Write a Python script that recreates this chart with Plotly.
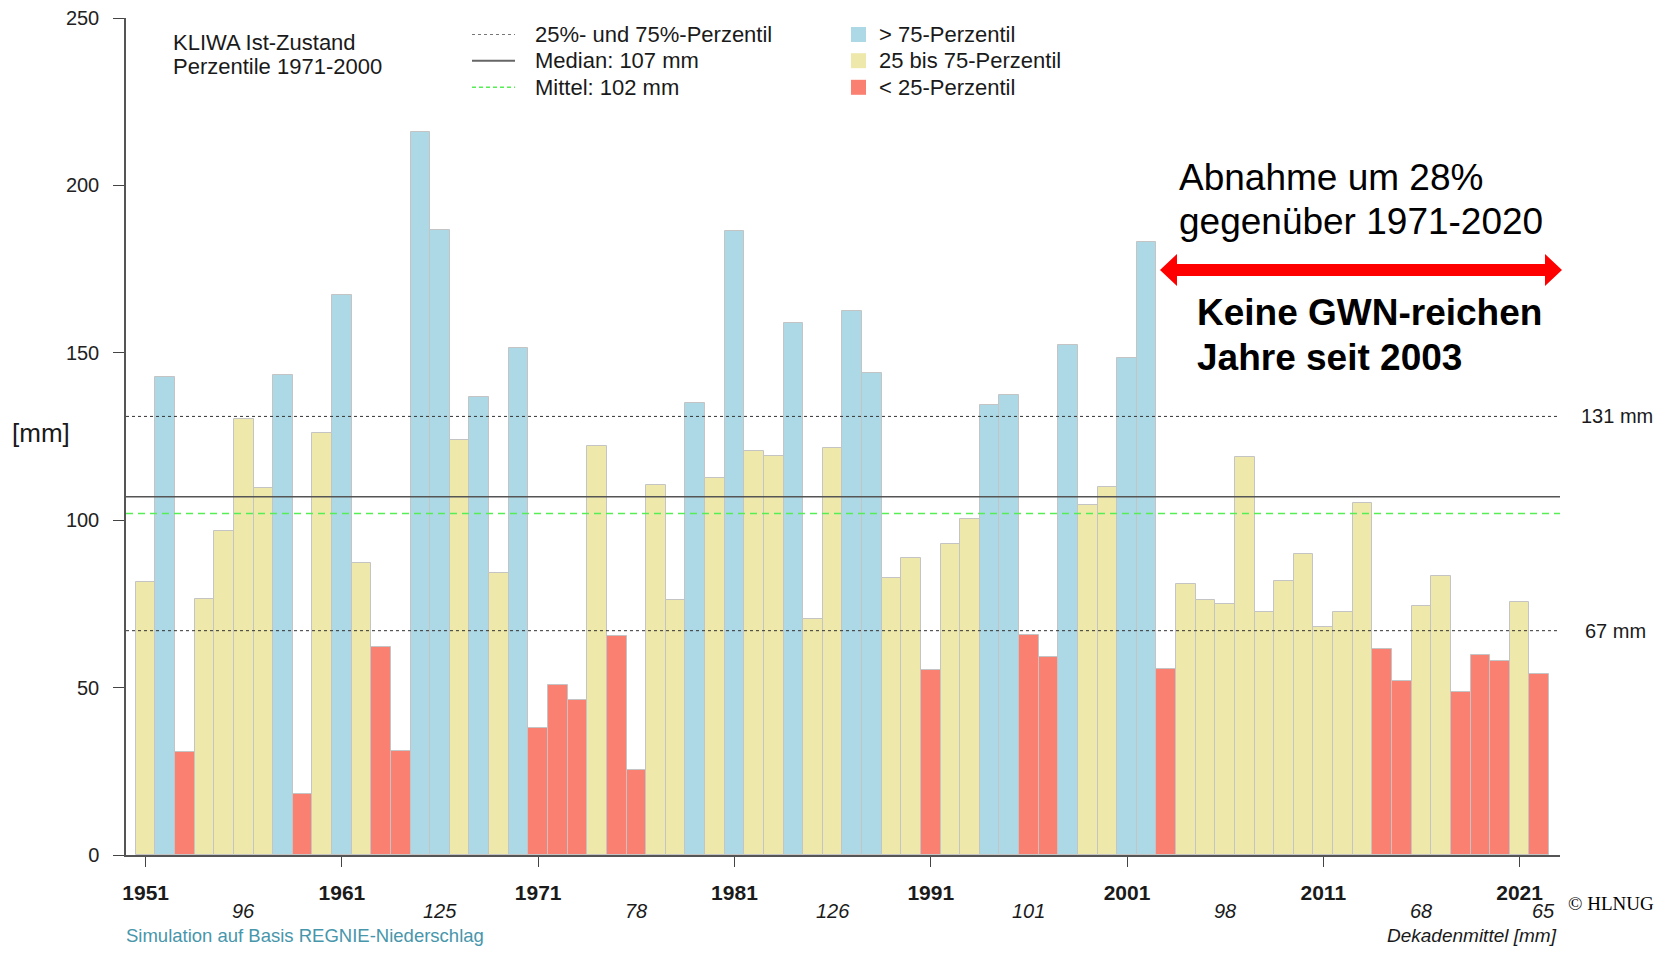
import plotly.graph_objects as go

# ---------------- data ----------------
years = list(range(1951, 2023))
gwn = [81.5, 142.7, 30.7, 76.6, 96.7, 130.2, 109.6, 143.3, 18.1, 126.1,
       167.3, 87.1, 62.1, 31.0, 216.0, 186.8, 124.1, 136.7, 84.3, 151.4,
       37.9, 50.7, 46.2, 122.1, 65.3, 25.5, 110.5, 76.3, 135.0, 112.7,
       186.5, 120.7, 119.3, 158.8, 70.4, 121.6, 162.5, 143.9, 82.8, 88.6,
       55.3, 93.0, 100.3, 134.4, 137.5, 65.6, 59.0, 152.4, 104.4, 109.9,
       148.3, 183.0, 55.6, 80.9, 76.1, 75.1, 119.0, 72.7, 81.8, 89.8,
       68.1, 72.7, 105.0, 61.5, 52.0, 74.5, 83.4, 48.7, 59.7, 57.8,
       75.6, 54.0]
p25 = 67
p75 = 131
median = 107
mean = 102
decade_means = ["96", "125", "78", "126", "101", "98", "68", "65"]
decade_label_years = [1956, 1966, 1976, 1986, 1996, 2006, 2016, 2022.2]
tick_years = [1951, 1961, 1971, 1981, 1991, 2001, 2011, 2021]

C_HIGH = "#ADD8E6"
C_MID = "#EEE8AA"
C_LOW = "#FA8072"
colors = [C_HIGH if v > p75 else (C_LOW if v < p25 else C_MID) for v in gwn]

# ---------------- layout geometry ----------------
# page pixel coordinates; the figure sits at (8, 8) because of the page's body margin
O = 8
W, H = 1668 - 2 * O, 955 - 2 * O
PL, PR, PT, PB = 126, 1560, 18, 855          # plot area in page pixels
ML, MT = PL - O, PT - O
MR, MB = W - (PR - O), H - (PB - O)
PW, PH = PR - PL, PB - PT


def px(x):
    return (x - PL) / PW


def py(y):
    return 1 - (y - PT) / PH


FONT = "Liberation Sans, Arial, sans-serif"

fig = go.Figure()
fig.add_trace(go.Bar(
    x=years, y=gwn, width=1,
    marker=dict(color=colors, line=dict(color="#c4c4c4", width=1)),
    showlegend=False, hoverinfo="x+y",
))

shapes = []
# reference lines
shapes.append(dict(type="line", xref="paper", yref="y", x0=0, x1=1, y0=p75, y1=p75,
                   line=dict(color="#333333", width=1, dash="dot"), layer="above"))
shapes.append(dict(type="line", xref="paper", yref="y", x0=0, x1=1, y0=p25, y1=p25,
                   line=dict(color="#333333", width=1, dash="dot"), layer="above"))
shapes.append(dict(type="line", xref="paper", yref="y", x0=0, x1=1, y0=median, y1=median,
                   line=dict(color="#555555", width=1.5), layer="above"))
shapes.append(dict(type="line", xref="paper", yref="y", x0=0, x1=1, y0=mean, y1=mean,
                   line=dict(color="#55ee55", width=1.5, dash="7px,5px"), layer="above"))

# legend line samples
ry = [34.5, 60.7, 87.3]
shapes.append(dict(type="line", xref="paper", yref="paper", x0=px(472), x1=px(515),
                   y0=py(ry[0]), y1=py(ry[0]), line=dict(color="#777777", width=1, dash="dot")))
shapes.append(dict(type="line", xref="paper", yref="paper", x0=px(472), x1=px(515),
                   y0=py(ry[1]), y1=py(ry[1]), line=dict(color="#666666", width=2)))
shapes.append(dict(type="line", xref="paper", yref="paper", x0=px(472), x1=px(515),
                   y0=py(ry[2]), y1=py(ry[2]), line=dict(color="#55ee55", width=1.5, dash="4px,3px")))
# legend colour squares
for yy, c in zip(ry, [C_HIGH, C_MID, C_LOW]):
    shapes.append(dict(type="rect", xref="paper", yref="paper", x0=px(851), x1=px(866),
                       y0=py(yy - 7.5), y1=py(yy + 7.5), fillcolor=c, line=dict(width=0)))

# double-headed red arrow
ax0, ax1, ayc = 1160, 1562, 270
hl, hh, sh = 17, 16, 6
pts = [(ax0, ayc), (ax0 + hl, ayc - hh), (ax0 + hl, ayc - sh), (ax1 - hl, ayc - sh),
       (ax1 - hl, ayc - hh), (ax1, ayc), (ax1 - hl, ayc + hh), (ax1 - hl, ayc + sh),
       (ax0 + hl, ayc + sh), (ax0 + hl, ayc + hh)]
path = "M " + " L ".join(f"{px(a):.5f},{py(b):.5f}" for a, b in pts) + " Z"
shapes.append(dict(type="path", xref="paper", yref="paper", path=path,
                   fillcolor="#ff0000", line=dict(width=0)))

ann = []


def txt(text, x, y, size, xanchor="left", color="#1a1a1a", family=FONT, yanchor="middle"):
    ann.append(dict(text=text, x=px(x), y=py(y), xref="paper", yref="paper",
                    xanchor=xanchor, yanchor=yanchor, showarrow=False, borderpad=0,
                    font=dict(size=size, color=color, family=family)))


txt("KLIWA Ist-Zustand", 172, 42, 22)
txt("Perzentile 1971-2000", 172, 66.7, 22)
txt("25%- und 75%-Perzentil", 534, ry[0], 22)
txt(f"Median: {median} mm", 534, ry[1], 22)
txt(f"Mittel: {mean} mm", 534, ry[2], 22)
txt("&gt; 75-Perzentil", 878, ry[0], 22)
txt("25 bis 75-Perzentil", 878, ry[1], 22)
txt("&lt; 25-Perzentil", 878, ry[2], 22)

txt("Abnahme um 28%", 1178, 178, 37, color="#000000")
txt("gegenüber 1971-2020", 1178, 221.5, 37, color="#000000")
txt("<b>Keine GWN-reichen</b>", 1196, 312, 37, color="#000000")
txt("<b>Jahre seit 2003</b>", 1196, 357.5, 37, color="#000000")

txt(f"{p75} mm", 1580, 415.5, 20)
txt(f"{p25} mm", 1584, 631, 20)
txt("[mm]", 11, 433, 26)

for lab, yr in zip(decade_means, decade_label_years):
    ann.append(dict(text=f"<i>{lab}</i>", x=yr, y=py(910.5), xref="x", yref="paper",
                    xanchor="center", yanchor="middle", showarrow=False, borderpad=0,
                    font=dict(size=20, color="#1a1a1a", family=FONT)))

txt("Simulation auf Basis REGNIE-Niederschlag", 125, 935, 18.5, color="#4796ab")
txt("<i>Dekadenmittel [mm]</i>", 1558, 935, 19, xanchor="right")
txt("© HLNUG", 1567, 904, 19, color="#000000", family="Liberation Serif, Times New Roman, serif")

fig.update_layout(
    width=W, height=H,
    margin=dict(l=ML, r=MR, t=MT, b=MB, pad=0, autoexpand=False),
    paper_bgcolor="white", plot_bgcolor="white",
    bargap=0,
    shapes=shapes, annotations=ann,
    font=dict(family=FONT, color="#1a1a1a"),
    xaxis=dict(range=[1950.0, 2023.06], tickmode="array", tickvals=tick_years,
               ticktext=[f"<b>{t}</b>" for t in tick_years],
               ticks="outside", ticklen=10, tickwidth=1.2, tickcolor="#444444",
               showline=True, linecolor="#555555", linewidth=1.5,
               showgrid=False, zeroline=False, ticklabelstandoff=8, automargin=False,
               tickfont=dict(size=21, color="#1a1a1a", family=FONT)),
    yaxis=dict(range=[0, 250], tickvals=[0, 50, 100, 150, 200, 250],
               ticks="outside", ticklen=11, tickwidth=1.2, tickcolor="#444444",
               showline=True, linecolor="#555555", linewidth=1.5,
               showgrid=False, zeroline=False, ticklabelstandoff=10,
               ticklabeloverflow="allow", automargin=False,
               tickfont=dict(size=20, color="#222222", family=FONT)),
)

fig.write_html("out.html")
